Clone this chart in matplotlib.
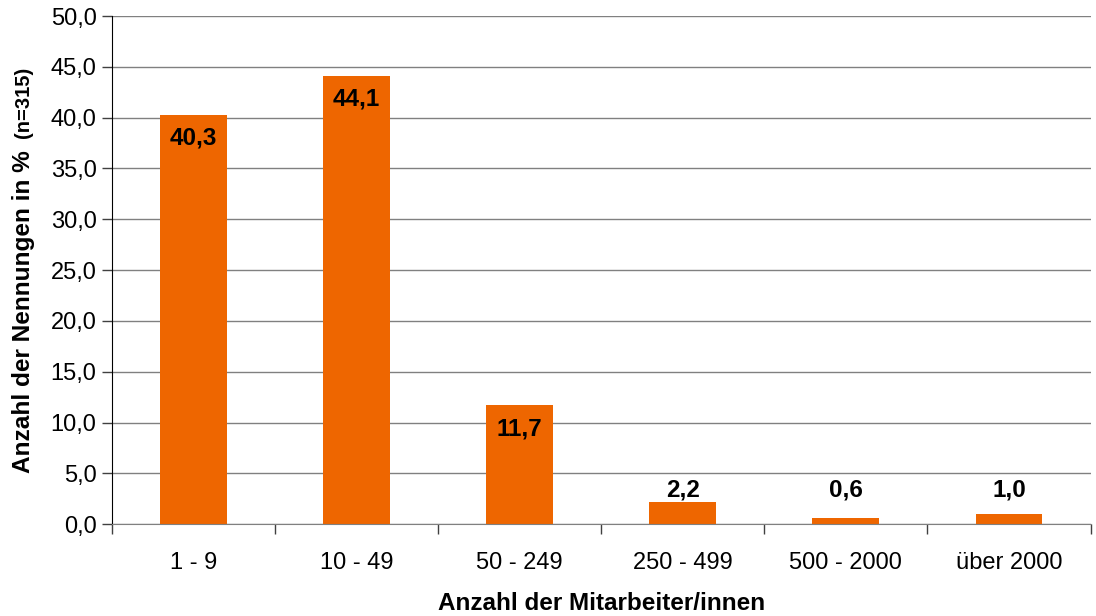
import matplotlib.pyplot as plt
import numpy as np

plt.rcParams['font.family'] = ['Liberation Sans', 'DejaVu Sans']

categories = ['1 - 9', '10 - 49', '50 - 249', '250 - 499', '500 - 2000', 'über 2000']
values = [40.3, 44.1, 11.7, 2.2, 0.6, 1.0]

fig = plt.figure(figsize=(10.96, 6.16), dpi=100)
ax = fig.add_axes([0.102, 0.149, 0.893, 0.825])

x = np.arange(len(categories))
ax.bar(x, values, width=0.41, color='#EE6600', zorder=3)

for xi, v in zip(x, values):
    y = v - 2.3 if v > 5 else max(v + 0.45, 3.35)
    ax.text(xi, y, f'{v:.1f}'.replace('.', ','), ha='center', va='center',
            fontsize=17.5, fontweight='bold', zorder=4)

ax.set_xlim(-0.5, len(categories) - 0.5)
ax.set_ylim(0, 50)
ax.set_yticks(np.arange(0, 50.1, 5))
ax.set_yticklabels([f'{t:.1f}'.replace('.', ',') for t in np.arange(0, 50.1, 5)],
                   fontsize=17)
ax.yaxis.grid(True, color='#808080', linewidth=1, zorder=0)

ax.set_xticks(x)
ax.set_xticklabels(categories, fontsize=17)
ax.tick_params(axis='x', length=0, pad=20)
ax.set_xticks(np.arange(-0.5, len(categories)), minor=True)
ax.tick_params(axis='x', which='minor', length=7, width=1, color='#404040')
ax.tick_params(axis='y', length=7, width=1, color='#404040', pad=4)

for s in ['top', 'right']:
    ax.spines[s].set_visible(False)
ax.spines['left'].set_color('black')
ax.spines['bottom'].set_color('#808080')
ax.spines['bottom'].set_zorder(5)

ax.set_xlabel('Anzahl der Mitarbeiter/innen', fontsize=17.5, fontweight='bold',
              labelpad=13)

fig.text(0.021, 0.232, 'Anzahl der Nennungen in %', rotation=90, fontsize=17.6,
         fontweight='bold', ha='center', va='bottom')
fig.text(0.021, 0.776, '(n=315)', rotation=90, fontsize=14.5,
         fontweight='bold', ha='center', va='bottom')

fig.savefig('out.png', dpi=100)
